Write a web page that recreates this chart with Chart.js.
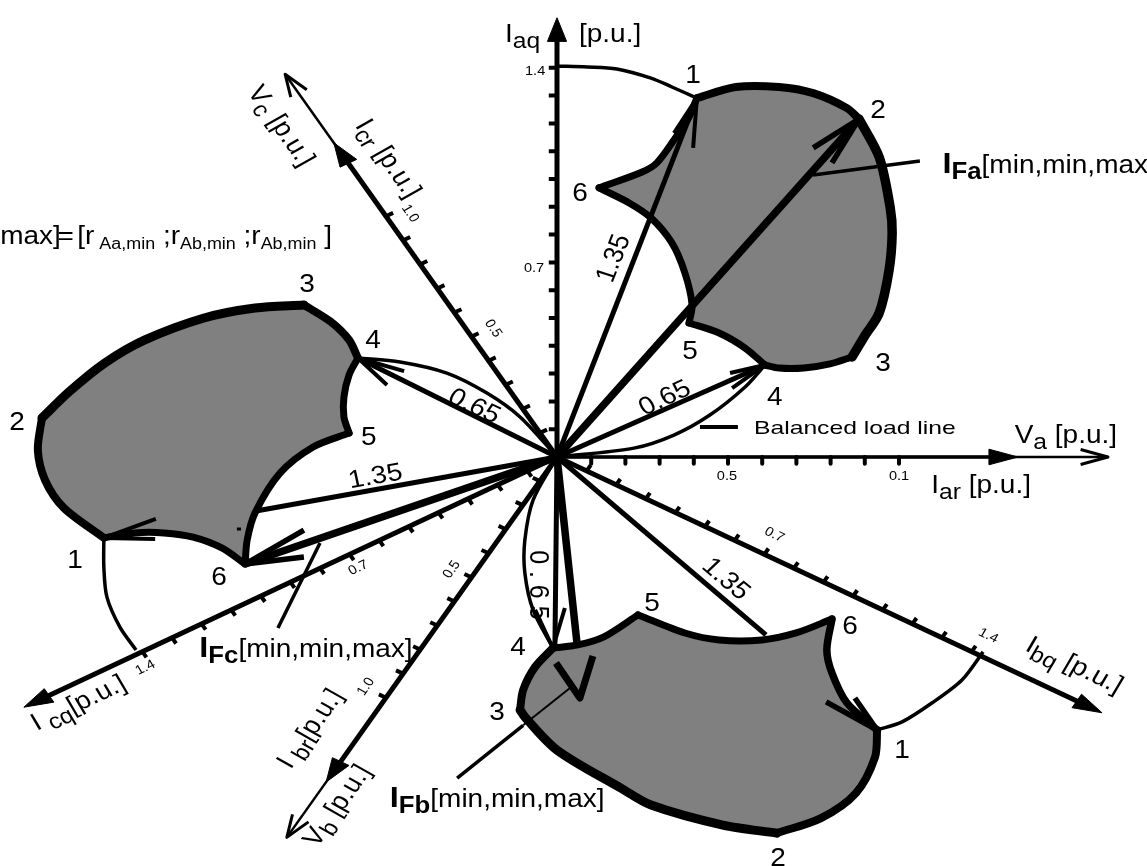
<!DOCTYPE html>
<html lang="en">
<head>
<meta charset="UTF-8">
<title>Fault current loci</title>
<script src="https://cdn.jsdelivr.net/npm/chart.js"></script>
<style>
    html, body { margin: 0; padding: 0; background: #ffffff; }
    canvas { display: block; }
</style>
</head>
<body>
<canvas id="chart" width="1147" height="866"></canvas>
<script>
// all values in p.u. [x, y], x = real axis, y = imaginary axis
// vertices 1..6 of each fault current locus, with the points between them
const locusA = [[.409,1.291],[.523,1.331],[.649,1.331],[.749,1.309],[.848,1.255],[.883,1.216],[.942,1.079],[.974,.899],[.980,.806],[.971,.673],[.942,.518],[.898,.432],[.863,.360],[.798,.335],[.722,.320],[.649,.320],[.608,.331],[.550,.392],[.474,.446],[.386,.482],[.395,.547],[.374,.662],[.336,.770],[.275,.860],[.211,.914],[.123,.968],[.249,1.025],[.292,1.058],[.342,1.140],[.386,1.223]];
const locusB = [[-.012,-.687],[.061,-.676],[.137,-.647],[.237,-.568],[.374,-.633],[.474,-.658],[.599,-.658],[.699,-.633],[.804,-.583],[.789,-.694],[.804,-.777],[.848,-.885],[.936,-.982],[.930,-1.079],[.874,-1.209],[.772,-1.299],[.643,-1.353],[.485,-1.324],[.275,-1.252],[.187,-1.191],[0,-1.054],[-.094,-.935],[-.108,-.910],[-.099,-.838],[-.064,-.755]];
const locusC = [[-.740,.547],[-.883,.536],[-1.032,.500],[-1.205,.421],[-1.322,.338],[-1.427,.234],[-1.506,.140],[-1.518,.025],[-1.497,-.083],[-1.442,-.183],[-1.325,-.291],[-1.234,-.273],[-1.149,-.273],[-1.064,-.288],[-.980,-.327],[-.912,-.385],[-.906,-.299],[-.883,-.201],[-.810,-.058],[-.713,.036],[-.608,.086],[-.623,.144],[-.623,.216],[-.608,.295],[-.582,.356],[-.608,.421],[-.661,.486]];

// where the numbered vertices sit in the lists above
const cornersA = [0, 5, 12, 16, 19, 25];
const cornersB = [0, 3, 8, 12, 16, 22];
const cornersC = [0, 6, 10, 15, 20, 24];

// phasor ends
const phasorsThin = [[.409,1.291],[.608,.331],[-.582,.356],[-.880,-.194],[.611,-.640],[-.006,-.676]];
const phasorsThick = [[.883,1.216],[-.912,-.385],[.058,-.665]];

// arrow barbs at the phasor ends: barb, tip, barb
const barbsThick = [
    [[.749,1.112],[.883,1.216],[.804,1.058]],
    [[-.740,-.263],[-.912,-.385],[-.740,-.360]],
    [[.787,-.881],[.936,-.982],[.871,-.867]]
];
const barbsInside = [[-.003,-.741],[.067,-.867],[.105,-.716]];
const barbsThin = [
    [[.342,1.165],[.409,1.291],[.398,1.112]],
    [[.506,.302],[.608,.331],[.512,.248]],
    [[-.447,.309],[-.582,.356],[-.497,.259]],
    [[-1.173,-.223],[-1.325,-.291],[-1.175,-.295]],
    [[.023,-.543],[-.012,-.687],[-.064,-.550]]
];

// balanced load lines from the origin and the 1.4 p.u. arcs
const curves = [
    [[0,0],[.225,.032],[.342,.079],[.447,.151],[.550,.252],[.608,.331]],
    [[0,0],[-.108,.144],[-.205,.230],[-.322,.302],[-.459,.342],[-.582,.356]],
    [[0,0],[-.070,-.155],[-.094,-.299],[-.094,-.417],[-.070,-.550],[-.012,-.687]],
    [[0,1.406],[.088,1.403],[.175,1.396],[.275,1.363],[.336,1.331],[.409,1.291]],
    [[1.246,-.701],[1.184,-.802],[1.096,-.885],[1.009,-.953],[.936,-.982]],
    [[-1.231,-.694],[-1.278,-.612],[-1.316,-.504],[-1.325,-.396],[-1.325,-.291]]
];

// leaders to the I_F labels, the legend line and a stray speck inside locus C
const leaders = [
    [[.749,1.014],[1.061,1.065]],
    [[-.693,-.309],[-.816,-.615]],
    [[-.292,-1.155],[-.099,-.965]]
];
const leaderInside = [[-.099,-.965],[.038,-.831]];
const legendLine = [[.418,.108],[.529,.108]];
const speck = [[-.936,-.259],[-.924,-.259]];

// axes: direction in degrees, arrow tip in p.u.
const axisNames = ['Iaq', 'Iar', 'Ibq', 'Ibr', 'Icq', 'Icr'];
const axisAngles = [90, 0, -30, -120, 210, 120];
const axisTips = [1.58, 1.348, 1.84, 1.35, 1.80, 1.305];
const voltageAngles = [0, -120, 120];
const voltageTips = [1.611, 1.58, 1.59];
const ticksLong = [.1,.2,.3,.4,.5,.6,.7,.8,.9,1.0,1.1,1.2,1.3,1.4];
const ticksShort = [.1,.2,.3,.4,.5,.6,.7,.8,.9,1.0];

// text, placed by its centre in p.u.
const sub = t => ({t, s: 22, dy: 6});
const boldBig = t => ({t, s: 29, b: true});
const boldSub = t => ({t, s: 23, b: true, dy: 6});
const small = t => ({t, s: 16, dy: 5});
const notes = [
    {x:.398, y:1.378, runs:['1']}, {x:.939, y:1.252, runs:['2']}, {x:.953, y:.342, runs:['3']},
    {x:.637, y:.219, runs:['4']}, {x:.389, y:.385, runs:['5']}, {x:.067, y:.953, runs:['6']},
    {x:1.009, y:-1.050, runs:['1']}, {x:.646, y:-1.439, runs:['2']}, {x:-.175, y:-.914, runs:['3']},
    {x:-.114, y:-.680, runs:['4']}, {x:.278, y:-.522, runs:['5']}, {x:.857, y:-.604, runs:['6']},
    {x:-1.409, y:-.367, runs:['1']}, {x:-1.579, y:.129, runs:['2']}, {x:-.731, y:.626, runs:['3']},
    {x:-.538, y:.424, runs:['4']}, {x:-.550, y:.076, runs:['5']}, {x:-.988, y:-.428, runs:['6']},
    {x:.161, y:.716, rot:-72, runs:['1.35']}, {x:.313, y:.216, rot:-30, runs:['0.65']},
    {x:-.240, y:.187, rot:30, runs:['0.65']}, {x:-.532, y:-.065, rot:-12, runs:['1.35']},
    {x:.497, y:-.435, rot:46, runs:['1.35']}, {x:-.050, y:-.460, rot:90, runs:['0 . 6 5']},
    {x:-.064, y:1.392, size:13, runs:['1.4']}, {x:-.067, y:.683, size:13, runs:['0.7']},
    {x:.497, y:-.065, size:13, runs:['0.5']}, {x:1.0, y:-.065, size:13, runs:['0.1']},
    {x:-.427, y:.878, rot:60, size:13, runs:['1.0']}, {x:-.184, y:.464, rot:60, size:13, runs:['0.5']},
    {x:-.582, y:-.396, rot:-30, size:13, runs:['0.7']}, {x:-1.205, y:-.755, rot:-30, size:13, runs:['1.4']},
    {x:-.310, y:-.403, rot:-60, size:13, runs:['0.5']}, {x:-.561, y:-.824, rot:-60, size:13, runs:['1.0']},
    {x:.637, y:-.277, rot:30, size:13, runs:['0.7']}, {x:1.263, y:-.640, rot:30, size:13, runs:['1.4']},
    {x:.871, y:.108, size:19, wide:1.3, runs:['Balanced load line']},
    {x:.047, y:1.525, runs:['I', sub('aq'), '     [p.u.]']},
    {x:1.488, y:.083, runs:['V', sub('a'), ' [p.u.]']},
    {x:1.240, y:-.097, runs:['I', sub('ar'), ' [p.u.]']},
    {x:-.804, y:1.194, rot:60, runs:['V', sub('c'), ' [p.u.]']},
    {x:-.491, y:1.076, rot:60, runs:['I', sub('cr'), ' [p.u.]']},
    {x:-1.401, y:-.881, rot:-30, runs:['I', sub(' cq'), '[p.u.]']},
    {x:-.725, y:-.975, rot:-60, runs:['I', sub(' br'), '[p.u.]']},
    {x:-.646, y:-1.252, rot:-60, runs:['V', sub('b'), ' [p.u.]']},
    {x:1.515, y:-.745, rot:30, runs:['I', sub('bq'), ' [p.u.]']},
    {x:1.439, y:1.054, runs:[boldBig('I'), boldSub('Fa'), '[min,min,max]']},
    {x:-.734, y:-.687, runs:[boldBig('I'), boldSub('Fc'), '[min,min,max]']},
    {x:-.175, y:-1.227, runs:[boldBig('I'), boldSub('Fb'), '[min,min,max]']},
    {x:-1.143, y:.799, runs:['max]', {t:'=', s:25, gap:-3}, {t:'[r', s:25, gap:3}, small(' Aa,min'), ' ;r', small('Ab,min'), ' ;r', small('Ab,min'), ' ]']}
];

const toPoints = list => list.map(p => ({x: p[0], y: p[1]}));
const polar = (deg, r) => ({x: r * Math.cos(deg * Math.PI / 180), y: r * Math.sin(deg * Math.PI / 180)});

const datasets = [];
function addLine(points, width, extra) {
    datasets.push(Object.assign({
        data: points,
        showLine: true,
        pointRadius: 0,
        borderColor: '#000000',
        backgroundColor: '#000000',
        borderWidth: width,
        borderJoinStyle: 'round',
        borderCapStyle: 'butt',
        tension: 0,
        fill: false,
        order: -datasets.length
    }, extra || {}));
}

// locus areas first so that everything else sits on top
[locusA, locusB, locusC].forEach(l => {
    addLine(toPoints(l.concat([l[0]])), 0, {fill: 'shape', backgroundColor: '#808080', borderColor: 'transparent'});
});

// one outline piece per arc between two numbered vertices
function addArcs(locus, corners, widths) {
    corners.forEach((start, i) => {
        const end = corners[i + 1];
        const pts = end === undefined ? locus.slice(start).concat([locus[0]]) : locus.slice(start, end + 1);
        addLine(toPoints(pts), widths[i], {tension: .3, borderCapStyle: 'round'});
    });
}
addArcs(locusA, cornersA, [8, 9.5, 7, 7, 7, 7]);
addArcs(locusB, cornersB, [7, 7, 7.5, 8, 9, 8]);
addArcs(locusC, cornersC, [9, 8, 7, 7, 7, 8]);

// voltage axes, thin with an open arrow
voltageAngles.forEach((deg, i) => {
    const r = voltageTips[i];
    addLine([polar(deg, 0), polar(deg, r)], 2.5);
    const base = polar(deg, r - .08), side = polar(deg + 90, .027);
    addLine([{x: base.x + side.x, y: base.y + side.y}, polar(deg, r), {x: base.x - side.x, y: base.y - side.y}], 3);
});

// current axes with ticks and a filled arrow
axisNames.forEach((name, i) => {
    const deg = axisAngles[i], tip = axisTips[i];
    const isQ = name.endsWith('q');
    addLine([polar(deg, 0), polar(deg, tip - .04)], i === 1 ? 3.5 : 5);
    const base = polar(deg, tip - .085), side = polar(deg + 90, .028);
    addLine([{x: base.x + side.x, y: base.y + side.y}, polar(deg, tip), {x: base.x - side.x, y: base.y - side.y}, {x: base.x + side.x, y: base.y + side.y}], 1,
        {fill: 'shape'});
    const tickPts = [];
    const off = polar(isQ ? deg + 90 : deg - 90, .024);
    (isQ ? ticksLong : ticksShort).forEach(v => {
        const p = polar(deg, v);
        tickPts.push(p, {x: p.x + off.x, y: p.y + off.y}, {x: null, y: null});
    });
    addLine(tickPts, 4);
});

curves.forEach(c => addLine(toPoints(c), 3.5, {tension: .3}));
leaders.forEach(l => addLine(toPoints(l), 3.5));
addLine(toPoints(leaderInside), 2);
addLine(toPoints(legendLine), 4);
addLine(toPoints(speck), 3);

phasorsThin.forEach(p => addLine(toPoints([[0, 0], p]), 5));
phasorsThick.forEach(p => addLine(toPoints([[0, 0], p]), 7.5));
barbsThick.forEach(b => addLine(toPoints(b), 5.5));
addLine(toPoints(barbsInside), 7);
barbsThin.forEach(b => addLine(toPoints(b), 4));

const textPlugin = {
    id: 'textNotes',
    afterDraw(chart) {
        const {ctx, scales} = chart;
        // the whole figure is stretched sideways, the text a bit less
        const textStretch = 1.12;
        const ratio = (scales.x.getPixelForValue(1) - scales.x.getPixelForValue(0)) /
            (scales.y.getPixelForValue(0) - scales.y.getPixelForValue(1));
        notes.forEach(n => {
            const base = n.size || 25;
            const runs = n.runs.map(r => typeof r === 'string' ? {t: r, s: base} : r);
            const fontOf = r => (r.b ? 'bold ' : '') + r.s + 'px "Liberation Sans", Arial, sans-serif';
            let total = 0;
            runs.forEach(r => { ctx.font = fontOf(r); total += ctx.measureText(r.t).width + (r.gap || 0); });
            const rot = (n.rot || 0) * Math.PI / 180;
            ctx.save();
            ctx.translate(scales.x.getPixelForValue(n.x), scales.y.getPixelForValue(n.y));
            ctx.scale(n.wide || textStretch, 1);
            // keep rotated text parallel to its axis on the stretched figure
            ctx.rotate(Math.atan2(Math.sin(rot) * textStretch, Math.cos(rot) * ratio));
            ctx.fillStyle = '#000000';
            ctx.textBaseline = 'alphabetic';
            ctx.textAlign = 'left';
            let cx = -total / 2;
            runs.forEach(r => {
                ctx.font = fontOf(r);
                cx += r.gap || 0;
                ctx.fillText(r.t, cx, base * 0.35 + (r.dy || 0));
                cx += ctx.measureText(r.t).width;
            });
            ctx.restore();
        });
    }
};

new Chart(document.getElementById('chart').getContext('2d'), {
    type: 'scatter',
    data: {datasets},
    options: {
        responsive: false,
        animation: false,
        layout: {padding: 0},
        plugins: {legend: {display: false}, tooltip: {enabled: false}},
        scales: {
            x: {type: 'linear', display: false, min: -557 / 342, max: 590 / 342},
            y: {type: 'linear', display: false, min: -409 / 278, max: 457 / 278}
        }
    },
    plugins: [textPlugin]
});
</script>
</body>
</html>
